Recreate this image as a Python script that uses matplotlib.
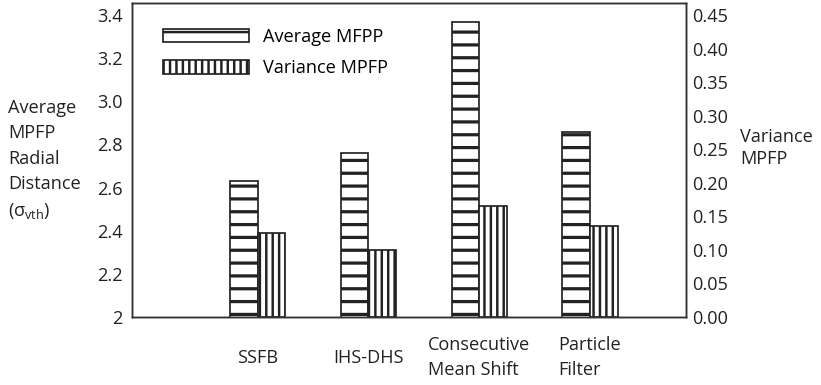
import numpy as np
from matplotlib import pyplot as plt

methods = ['SSFB', 'IHS-DHS', 'Consecutive\nMean Shift', 'Particle\nFilter']
avg_mpfp = [2.63, 2.76, 3.37, 2.86]
var_mpfp = [0.125, 0.10, 0.165, 0.135]
left_ticks = [2, 2.2, 2.4, 2.6, 2.8, 3.0, 3.2, 3.4]
left_labels = ['2', '2.2', '2.4', '2.6', '2.8', '3.0', '3.2', '3.4']
right_ticks = [0.0, 0.05, 0.10, 0.15, 0.20, 0.25, 0.30, 0.35, 0.40, 0.45]

plt.rcParams['font.family'] = ['Open Sans', 'DejaVu Sans']
plt.rcParams['font.size'] = 17
plt.rcParams['mathtext.fontset'] = 'custom'
plt.rcParams['mathtext.rm'] = 'Open Sans'
plt.rcParams['mathtext.it'] = 'Open Sans'
plt.rcParams['hatch.color'] = '#111111'

# dpi 77 keeps the hatch spacing close to the printed figure
fig = plt.figure(figsize=(821 / 77, 385 / 77), dpi=77)
ax = fig.add_axes([132 / 821, 1 - 317 / 385, 554 / 821, 314 / 385])
ax2 = ax.twinx()

x = np.arange(1, len(methods) + 1)
w = 0.25
plt.rcParams['hatch.linewidth'] = 3.0
b1 = ax.bar(x - w / 2, avg_mpfp, w, color='white', edgecolor='#222222',
            linewidth=1.6, hatch='-', label='Average MFPP', zorder=2)
plt.rcParams['hatch.linewidth'] = 2.3
b2 = ax2.bar(x + w / 2, var_mpfp, w, color='white', edgecolor='#222222',
             linewidth=1.6, hatch='||', label='Variance MPFP', zorder=2)

ax.set_xlim(-0.135, 4.867)
ax.set_ylim(2, 3.456)
ax2.set_ylim(0, 0.468)

ax.set_yticks(left_ticks)
ax.set_yticklabels(left_labels)
ax2.set_yticks(right_ticks)
ax2.set_yticklabels(['%.2f' % t for t in right_ticks])
ax.tick_params(axis='y', length=0, pad=9, colors='#222222')
ax2.tick_params(axis='y', length=0, pad=5.5, colors='#222222')

ax.set_xticks(x)
ax.set_xticklabels(methods, multialignment='left', linespacing=1.5)
ax.tick_params(axis='x', length=0, pad=38, colors='#222222')
for lab in ax.get_xticklabels():
    lab.set_verticalalignment('center')

for a in (ax, ax2):
    for s in a.spines.values():
        s.set_linewidth(1.4)
        s.set_color('#333333')

fig.text(8 / 821, 1 - 160 / 385,
         'Average\nMPFP\nRadial\nDistance\n(σ$_{\\mathrm{vth}}$)',
         ha='left', va='center', linespacing=1.52, color='#222222')
fig.text(740 / 821, 1 - 148 / 385, 'Variance\nMPFP',
         ha='left', va='center', linespacing=1.32, color='#222222')

ax.legend([b1, b2], ['Average MFPP', 'Variance MPFP'], loc='upper left',
          bbox_to_anchor=(0.040, 0.95), frameon=False, borderpad=0,
          handlelength=4.7, handleheight=0.8, handletextpad=0.8,
          labelspacing=0.75)

plt.savefig('out.png', dpi=77)
